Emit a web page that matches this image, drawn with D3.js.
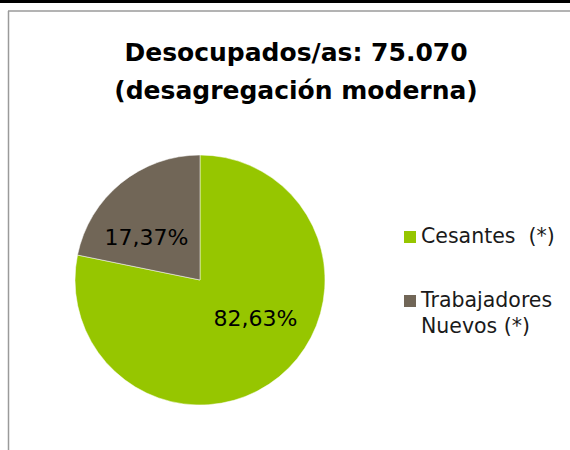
<!DOCTYPE html>
<html>
<head>
<meta charset="utf-8">
<script src="https://cdn.jsdelivr.net/npm/d3@7"></script>
<style>
  body { margin: 0; background: #fff; }
</style>
</head>
<body>
<div class="chart"></div>
<script>
// data
var titleLines = ["Desocupados/as: 75.070", "(desagregación moderna)"];
var categories = ["Cesantes  (*)", "Trabajadores Nuevos (*)"];
var legendLines = [["Cesantes  (*)"], ["Trabajadores", "Nuevos (*)"]];
// slice sizes as drawn in the picture (labels are the printed ones)
var values = [78.2, 21.8];
var labels = ["82,63%", "17,37%"];
var colors = ["#96c600", "#716657"];

var W = 570, H = 450;
var font = "'DejaVu Sans', sans-serif";

var svg = d3.select(".chart").append("svg")
    .attr("width", W)
    .attr("height", H);

// top black bar
svg.append("rect")
    .attr("x", 0).attr("y", 0)
    .attr("width", W).attr("height", 3)
    .style("fill", "#000");

// chart area frame (top + left visible)
svg.append("line")
    .attr("x1", 8).attr("y1", 11).attr("x2", W).attr("y2", 11)
    .style("stroke", "#9a9a9a").style("stroke-width", 1.5);
svg.append("line")
    .attr("x1", 8.5).attr("y1", 11).attr("x2", 8.5).attr("y2", H)
    .style("stroke", "#9a9a9a").style("stroke-width", 1.5);

// title
svg.selectAll("text.title")
    .data(titleLines)
    .enter().append("text")
    .attr("class", "title")
    .attr("x", 296)
    .attr("y", function(d, i){ return 61 + i * 38; })
    .attr("text-anchor", "middle")
    .style("font-family", font)
    .style("font-weight", "bold")
    .style("font-size", "25px")
    .style("fill", "#000")
    .text(function(d){ return d; });

// pie
var cx = 200, cy = 280, r = 125;
var pie = d3.pie().sort(null).value(function(d){ return d; });
var arc = d3.arc().innerRadius(0).outerRadius(r);
var arcs = pie(values);

var g = svg.append("g").attr("transform", "translate(" + cx + "," + cy + ")");

g.selectAll("path")
    .data(arcs)
    .enter().append("path")
    .attr("d", arc)
    .style("fill", function(d, i){ return colors[i]; })
    .style("stroke", "#fff")
    .style("stroke-width", 0.5);

// label placement: centroid of a ring, then a small nudge like Excel's best fit
var labelArc = d3.arc().innerRadius(r * 0.6).outerRadius(r * 0.6);
var nudge = [[8, -20], [-6, 15]];
g.selectAll("text.lbl")
    .data(arcs)
    .enter().append("text")
    .attr("class", "lbl")
    .attr("transform", function(d, i){
        var c = labelArc.centroid(d);
        return "translate(" + (c[0] + nudge[i][0]) + "," + (c[1] + nudge[i][1]) + ")";
    })
    .attr("dy", "0.35em")
    .attr("text-anchor", "middle")
    .style("font-family", font)
    .style("font-size", "22px")
    .style("fill", "#000")
    .text(function(d, i){ return labels[i]; });

// legend
var leg = svg.selectAll("g.leg")
    .data(categories)
    .enter().append("g")
    .attr("class", "leg")
    .attr("transform", function(d, i){ return "translate(404," + (231 + i * 64) + ")"; });

leg.append("rect")
    .attr("width", 12).attr("height", 12)
    .style("fill", function(d, i){ return colors[i]; });

leg.each(function(d, i){
    d3.select(this).selectAll("text")
        .data(legendLines[i])
        .enter().append("text")
        .attr("x", 17)
        .attr("y", function(t, j){ return 12 + j * 26; })
        .style("font-family", font)
        .style("font-size", "20.5px")
        .style("fill", "#1a1a1a")
        .style("white-space", "pre")
        .text(function(t){ return t; });
});
</script>
</body>
</html>
